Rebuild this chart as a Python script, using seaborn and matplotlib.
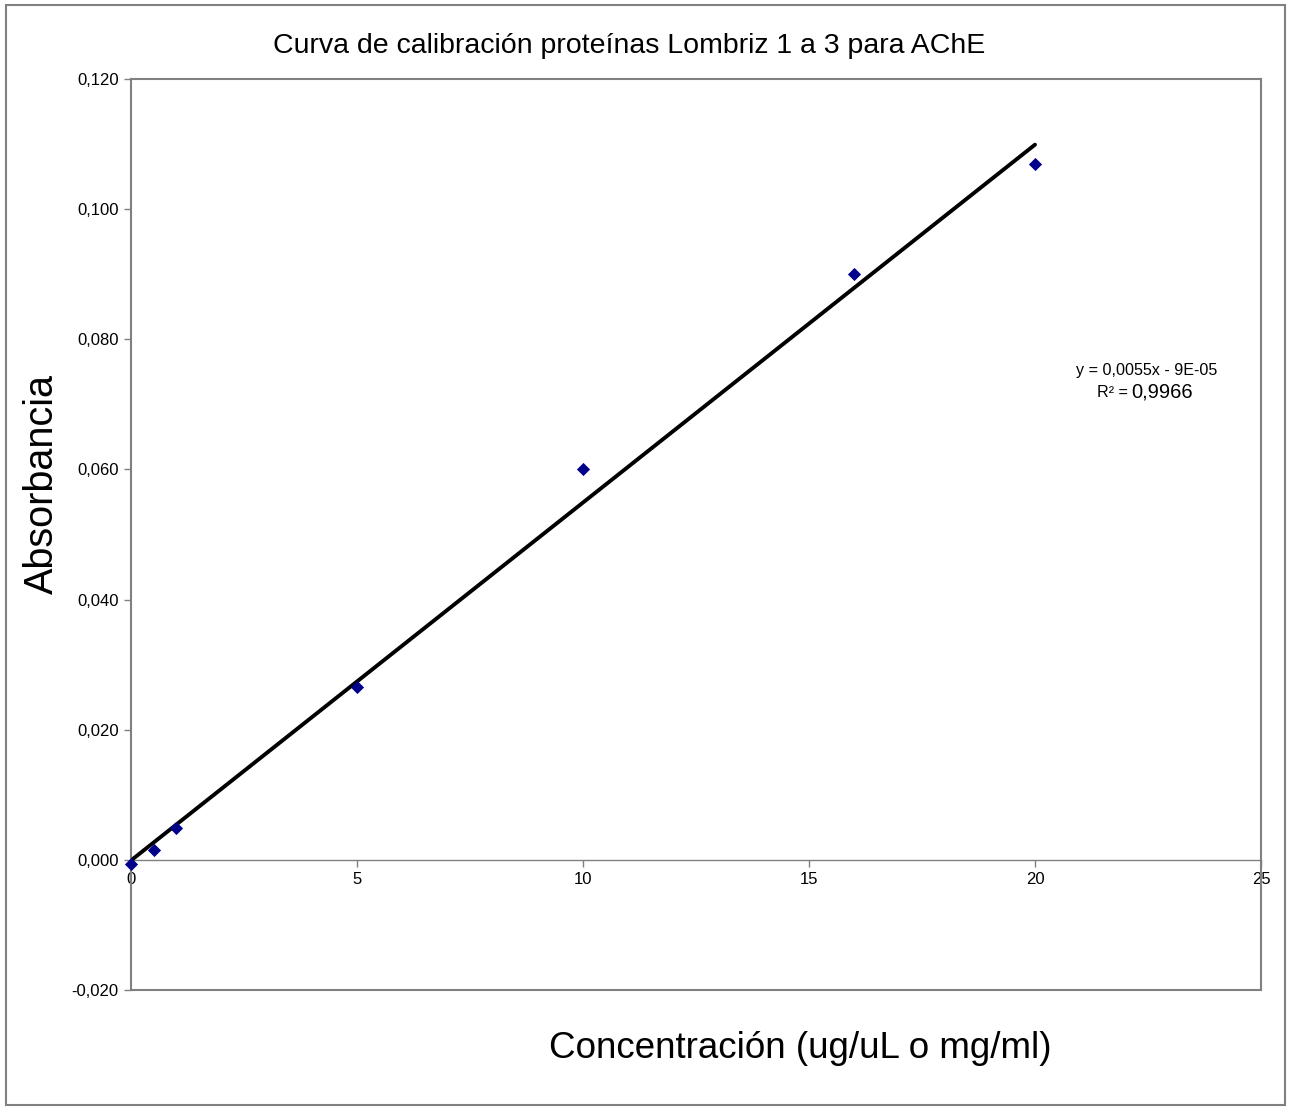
import matplotlib
matplotlib.use("Agg")
import matplotlib.pyplot as plt
from matplotlib.patches import Rectangle
from matplotlib.ticker import FuncFormatter, MultipleLocator
import numpy as np
import pandas as pd
import seaborn as sns

# Calibration standards: protein concentration vs. absorbance
concentracion = [0, 0.5, 1, 5, 10, 16, 20]
absorbancia = [-0.0006, 0.0015, 0.0049, 0.0265, 0.060, 0.090, 0.107]

# Linear trendline as reported
pendiente = 0.0055
intercepto = -0.00009
r2 = 0.9966

sns.set_theme(style="white")
plt.rcParams["font.family"] = ["Liberation Sans", "DejaVu Sans"]
plt.rcParams["text.color"] = "black"

fig = plt.figure(figsize=(12.92, 11.13), dpi=100)
ax = fig.add_axes([131 / 1292, 1 - 990 / 1113, (1261 - 131) / 1292, (990 - 79) / 1113])

df = pd.DataFrame({"x": concentracion, "y": absorbancia})
x_fit = np.array([min(concentracion), max(concentracion)])
fit = pd.DataFrame({"x": x_fit, "y": pendiente * x_fit + intercepto})

sns.lineplot(data=fit, x="x", y="y", ax=ax, color="black", linewidth=2.8, zorder=3)
sns.scatterplot(data=df, x="x", y="y", ax=ax, marker="D", s=45, color="#00008B",
                edgecolor="#00008B", linewidth=0, zorder=4, clip_on=False)

ax.set_xlim(0, 25)
ax.set_ylim(-0.02, 0.12)
ax.xaxis.set_major_locator(MultipleLocator(5))
ax.yaxis.set_major_locator(MultipleLocator(0.02))
ax.yaxis.set_major_formatter(FuncFormatter(lambda v, p: f"{v:.3f}".replace(".", ",").replace("-0,000", "0,000")))
ax.xaxis.set_major_formatter(FuncFormatter(lambda v, p: f"{v:g}"))

frame_col = "#808080"
for s in ["left", "right", "top", "bottom"]:
    ax.spines[s].set_visible(True)
    ax.spines[s].set_color(frame_col)
    ax.spines[s].set_linewidth(1.5)
ax.spines["bottom"].set_position(("data", 0))
ax.spines["bottom"].set_linewidth(1.0)
# lower edge of the plot box
ax.plot([0, 1], [0, 0], transform=ax.transAxes, color=frame_col, linewidth=1.5, clip_on=False)

ax.tick_params(axis="both", which="major", length=5, width=1, color=frame_col,
               labelsize=12, labelcolor="black", direction="out")
ax.tick_params(axis="x", pad=4)
ax.tick_params(axis="y", pad=4)
ax.tick_params(left=True, bottom=True)
ax.grid(False)
ax.set_xlabel("")
ax.set_ylabel("")

fig.text(629 / 1292, 1 - 46 / 1113, "Curva de calibración proteínas Lombriz 1 a 3 para AChE",
         ha="center", va="center", fontsize=20.5, color="black")
fig.text(42 / 1292, 1 - 484 / 1113, "Absorbancia", rotation=90,
         ha="center", va="center", fontsize=28.5, color="black")
fig.text(800 / 1292, 1 - 1048 / 1113, "Concentración (ug/uL o mg/ml)",
         ha="center", va="center", fontsize=26.5, color="black")

# trendline equation and coefficient of determination
fig.text(1147 / 1292, 1 - 370 / 1113, "y = 0,0055x - 9E-05",
         ha="center", va="center", fontsize=11.6, color="black")
fig.text(1128 / 1292, 1 - 397 / 1113, "R² =",
         ha="right", va="baseline", fontsize=11.6, color="black")
fig.text(1131 / 1292, 1 - 397 / 1113, f"{r2:.4f}".replace(".", ","),
         ha="left", va="baseline", fontsize=14.5, color="black")

# outer chart frame
fig.patches.append(Rectangle((6 / 1292, 1 - 1105 / 1113), (1285 - 6) / 1292, (1105 - 5) / 1113,
                             transform=fig.transFigure, fill=False, edgecolor=frame_col, linewidth=1.5))

fig.savefig("out.png", dpi=100, facecolor="white")
